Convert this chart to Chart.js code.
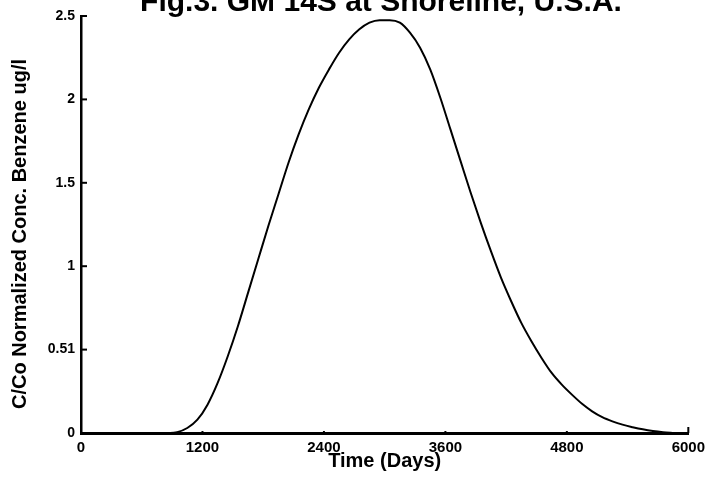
<!DOCTYPE html>
<html>
<head>
<meta charset="utf-8">
<script src="https://cdn.jsdelivr.net/npm/chart.js@4/dist/chart.umd.min.js"></script>
<style>
  html, body { margin: 0; padding: 0; background: #fff; }
  #wrap { width: 711px; height: 484px; }
</style>
</head>
<body>
<div id="wrap"><canvas id="c" width="711" height="484"></canvas></div>
<script>
// Breakthrough curve: time in days vs normalized benzene concentration
const timeDays = [0, 600, 880, 950, 1050, 1150, 1250, 1350, 1450, 1550, 1650, 1750, 1850, 1950, 2050, 2150, 2250, 2350, 2450, 2550, 2650, 2750, 2850, 2950, 3050, 3150, 3250, 3350, 3450, 3550, 3650, 3750, 3850, 3950, 4050, 4150, 4250, 4350, 4450, 4550, 4650, 4750, 4850, 4950, 5050, 5150, 5250, 5350, 5450, 5550, 5650, 5750, 5860];
const concValues = [0, 0, 0, 0.005, 0.03, 0.08, 0.17, 0.30, 0.46, 0.64, 0.84, 1.04, 1.24, 1.43, 1.62, 1.79, 1.94, 2.07, 2.18, 2.28, 2.36, 2.42, 2.46, 2.475, 2.475, 2.46, 2.40, 2.31, 2.18, 2.01, 1.82, 1.63, 1.44, 1.26, 1.09, 0.93, 0.79, 0.66, 0.55, 0.45, 0.36, 0.29, 0.23, 0.175, 0.13, 0.095, 0.07, 0.05, 0.035, 0.022, 0.012, 0.005, 0];

const xTickValues = [0, 1200, 2400, 3600, 4800, 6000];
const xTickLabels = ['0', '1200', '2400', '3600', '4800', '6000'];
const yTickValues = [0, 0.5, 1, 1.5, 2, 2.5];
const yTickLabels = ['0', '0.51', '1', '1.5', '2', '2.5'];

const titleText = 'Fig.3. GM 14S at Shoreline, U.S.A.';
const xTitle = 'Time (Days)';
const yTitle = 'C/Co Normalized Conc. Benzene ug/l';

const FONT = "'Liberation Sans', Arial, sans-serif";

// Heading at the top edge and the rotated y-axis caption
const captions = {
  id: 'captions',
  afterDraw(chart) {
    const ctx = chart.ctx;
    ctx.save();
    ctx.fillStyle = '#000';
    ctx.textAlign = 'center';
    ctx.font = 'bold 30px ' + FONT;
    ctx.textBaseline = 'alphabetic';
    ctx.fillText(titleText, 381, 11);

    ctx.font = 'bold 20px ' + FONT;
    ctx.textBaseline = 'middle';
    ctx.translate(20, 234);
    ctx.rotate(-Math.PI / 2);
    ctx.fillText(yTitle, 0, 0);
    ctx.restore();
  }
};

// Tick marks drawn pointing into the plot area
const innerTicks = {
  id: 'innerTicks',
  afterDraw(chart) {
    const ctx = chart.ctx;
    const xs = chart.scales.x, ys = chart.scales.y;
    const area = chart.chartArea;
    ctx.save();
    ctx.strokeStyle = '#000';
    ctx.lineWidth = 2;
    yTickValues.forEach(v => {
      const py = ys.getPixelForValue(v);
      ctx.beginPath();
      ctx.moveTo(area.left, py);
      ctx.lineTo(area.left + 6, py);
      ctx.stroke();
    });
    xTickValues.forEach((v, i) => {
      const px = xs.getPixelForValue(v);
      const len = i === xTickValues.length - 1 ? 6 : 2;
      ctx.beginPath();
      ctx.moveTo(px, area.bottom);
      ctx.lineTo(px, area.bottom - len);
      ctx.stroke();
    });
    ctx.restore();
  }
};

new Chart(document.getElementById('c'), {
  type: 'line',
  data: {
    datasets: [{
      data: timeDays.map((t, i) => ({ x: t, y: concValues[i] })),
      borderColor: '#000',
      borderWidth: 2,
      pointRadius: 0,
      fill: false,
      cubicInterpolationMode: 'monotone'
    }]
  },
  options: {
    responsive: false,
    animation: false,
    events: [],
    layout: { padding: { left: 0, top: 16, right: 21, bottom: 0 } },
    plugins: {
      legend: { display: false },
      title: { display: false },
      tooltip: { enabled: false }
    },
    scales: {
      x: {
        type: 'linear',
        min: 0,
        max: 6000,
        afterFit(scale) { scale.height = 51; },
        afterBuildTicks(scale) { scale.ticks = xTickValues.map(v => ({ value: v })); },
        grid: { display: false, drawTicks: false },
        border: { display: true, color: '#000', width: 3 },
        ticks: {
          padding: 6,
          color: '#000',
          maxRotation: 0,
          autoSkip: false,
          font: { family: FONT, size: 15, weight: 'bold' },
          callback: (v) => xTickLabels[xTickValues.indexOf(v)]
        },
        title: {
          display: true,
          text: xTitle,
          color: '#000',
          font: { family: FONT, size: 20, weight: 'bold' },
          padding: { top: 0, bottom: 11 }
        }
      },
      y: {
        type: 'linear',
        min: 0,
        max: 2.5,
        afterFit(scale) { scale.width = 81; },
        afterBuildTicks(scale) { scale.ticks = yTickValues.map(v => ({ value: v })); },
        grid: { display: false, drawTicks: false },
        border: { display: true, color: '#000', width: 2.5 },
        ticks: {
          padding: 6,
          color: '#000',
          autoSkip: false,
          font: { family: FONT, size: 14, weight: 'bold' },
          callback: (v) => yTickLabels[yTickValues.indexOf(v)]
        },
        title: { display: false }
      }
    }
  },
  plugins: [captions, innerTicks]
});
</script>
</body>
</html>
